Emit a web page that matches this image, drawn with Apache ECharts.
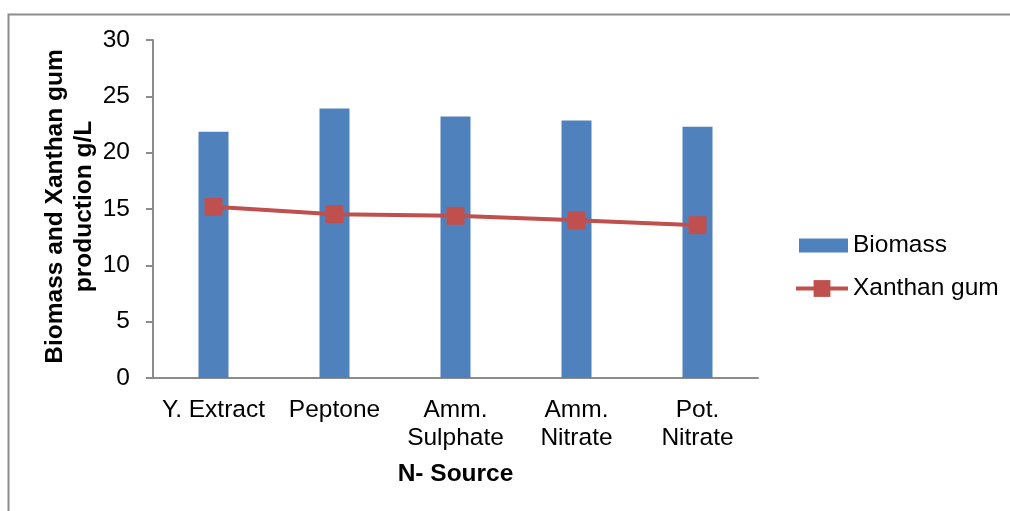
<!DOCTYPE html>
<html>
<head>
<meta charset="utf-8">
<script src="https://cdn.jsdelivr.net/npm/echarts@6/dist/echarts.min.js"></script>
<style>html,body{margin:0;padding:0;background:#fff}#c{width:1010px;height:511px}</style>
</head>
<body>
<div id="c"></div>
<script>
const categories = ['Y. Extract', 'Peptone', 'Amm.\nSulphate', 'Amm.\nNitrate', 'Pot.\nNitrate'];
const biomass = [21.85, 23.92, 23.2, 22.86, 22.3];
const xanthanGum = [15.19, 14.54, 14.39, 14.0, 13.56];
const yTicks = [0, 5, 10, 15, 20, 25, 30];

const FONT = '"Liberation Sans", Arial, sans-serif';
const FS = 24.5;
const chart = echarts.init(document.getElementById('c'), null, {renderer: 'canvas'});
chart.setOption({
  animation: false,
  backgroundColor: '#fff',
  textStyle: {fontFamily: FONT},
  graphic: [{
    type: 'rect', left: 6, top: 12, silent: true,
    shape: {x: 0, y: 0, width: 1100, height: 600},
    style: {fill: 'none', stroke: '#8c8c8c', lineWidth: 2}
  }],
  grid: {left: 153, right: 252, top: 40, bottom: 133, containLabel: false},
  legend: {
    orient: 'vertical', left: 789, top: 228, itemGap: 18,
    itemWidth: 52, itemHeight: 21,
    textStyle: {fontFamily: FONT, fontSize: FS, color: '#000'},
    data: [
      {name: 'Biomass', icon: 'path://M0,0 M52,21 M3,3.5 L52,3.5 L52,17.5 L3,17.5 Z'},
      {name: 'Xanthan gum', lineStyle: {width: 4}}
    ]
  },
  xAxis: {
    type: 'category', data: categories,
    name: 'N- Source', nameLocation: 'middle', nameGap: 84, nameMoveOverlap: false,
    nameTextStyle: {fontFamily: FONT, fontSize: FS, fontWeight: 'bold', color: '#000'},
    axisLine: {lineStyle: {color: '#8c8c8c', width: 2}},
    axisTick: {show: false},
    axisLabel: {fontFamily: FONT, fontSize: FS, color: '#000', margin: 18, lineHeight: 28, interval: 0}
  },
  yAxis: {
    type: 'value', min: yTicks[0], max: yTicks[yTicks.length - 1], interval: 5,
    name: 'Biomass and Xanthan gum\nproduction g/L', nameLocation: 'middle', nameGap: 54, nameRotate: 90,
    nameMoveOverlap: false,
    nameTextStyle: {fontFamily: FONT, fontSize: FS, fontWeight: 'bold', color: '#000', lineHeight: 29, align: 'center', padding: [0, 0, 0, 5]},
    axisLine: {show: true, lineStyle: {color: '#8c8c8c', width: 2}},
    axisTick: {show: true, length: 7, lineStyle: {color: '#8c8c8c', width: 2}},
    splitLine: {show: false},
    axisLabel: {fontFamily: FONT, fontSize: FS, color: '#000', margin: 23}
  },
  series: [
    {
      name: 'Biomass', type: 'bar', data: biomass, barWidth: 30,
      itemStyle: {color: '#4F81BD'}
    },
    {
      name: 'Xanthan gum', type: 'line', data: xanthanGum,
      symbol: 'rect', symbolSize: 18,
      lineStyle: {color: '#C0504D', width: 4},
      itemStyle: {color: '#C0504D'}
    }
  ]
});
</script>
</body>
</html>
